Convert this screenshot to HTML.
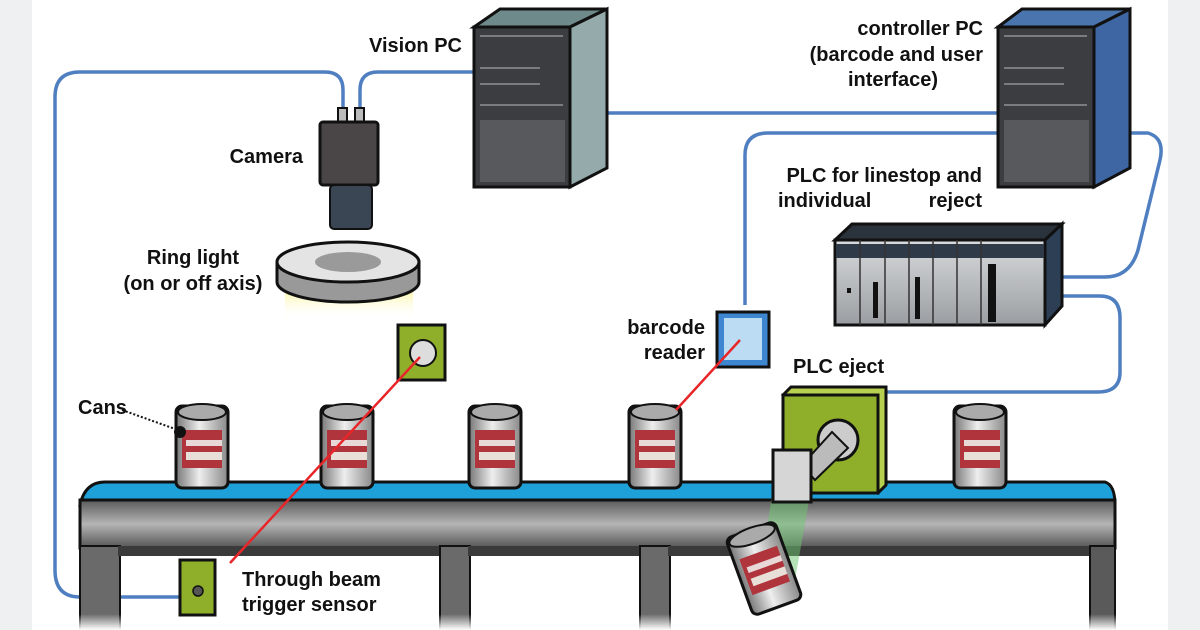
<!DOCTYPE html>
<html><head><meta charset="utf-8"><style>
html,body{margin:0;padding:0;width:1200px;height:630px;overflow:hidden;background:#fff}
svg{display:block}
text{font-family:"Liberation Sans Narrow","Liberation Sans",sans-serif;font-size:20px;fill:#111;font-weight:bold}
</style></head><body>
<svg width="1200" height="630" viewBox="0 0 1200 630" xmlns="http://www.w3.org/2000/svg">
<defs>
<linearGradient id="can" x1="0" x2="1"><stop offset="0" stop-color="#777"/><stop offset=".45" stop-color="#eee"/><stop offset="1" stop-color="#888"/></linearGradient>
<linearGradient id="frame" x1="0" y1="0" x2="0" y2="1"><stop offset="0" stop-color="#5a5a5a"/><stop offset=".5" stop-color="#b5b5b5"/><stop offset="1" stop-color="#555"/></linearGradient>
<linearGradient id="glow" x1="0" y1="0" x2="0" y2="1"><stop offset="0" stop-color="#f5ef60"/><stop offset="1" stop-color="#fff" stop-opacity="0"/></linearGradient>
<linearGradient id="plc" x1="0" x2="0" y1="0" y2="1"><stop offset="0" stop-color="#d8dadc"/><stop offset="1" stop-color="#9a9ea2"/></linearGradient>
<linearGradient id="fade" x1="0" y1="0" x2="0" y2="1"><stop offset="0" stop-color="#fff" stop-opacity="0"/><stop offset="1" stop-color="#fff" stop-opacity="1"/></linearGradient>
<g id="canG">
<rect x="-26" y="0" width="52" height="82" rx="6" fill="url(#can)" stroke="#111" stroke-width="3"/>
<ellipse cx="0" cy="6" rx="24" ry="8" fill="#aaa" stroke="#111" stroke-width="2"/>
<rect x="-20" y="24" width="40" height="38" fill="#b0343c"/>
<rect x="-16" y="34" width="36" height="6" fill="#e8d8d8"/>
<rect x="-16" y="46" width="36" height="8" fill="#e8e0d8"/>
</g>
</defs>
<rect x="0" y="0" width="32" height="630" fill="#eef0f2"/>
<rect x="1168" y="0" width="32" height="630" fill="#eef0f2"/>

<g fill="none" stroke="#4f7fc0" stroke-width="3.5">
<path d="M343 112 V90 Q343 72 325 72 H80 Q55 72 55 97 V570 Q55 597 80 597 H200"/>
<path d="M360 112 V90 Q360 72 378 72 H474"/>
<path d="M607 113 H998"/>
<path d="M998 133 H768 Q745 133 745 155 V305"/>
<path d="M1130 133 H1148 Q1165 138 1160 160 L1138 250 Q1130 277 1105 277 H1062"/>
<path d="M1062 296 H1100 Q1120 296 1120 318 V372 Q1120 392 1098 392 H885"/>
</g>

<polygon points="474,27 500,9 607,9 570,27" fill="#6e8a8a" stroke="#111" stroke-width="3"/>
<polygon points="570,27 607,9 607,168 570,187" fill="#95abab" stroke="#111" stroke-width="3"/>
<rect x="474" y="27" width="96" height="160" fill="#3c3d40" stroke="#111" stroke-width="3"/>
<g stroke="#7a7c80" stroke-width="2"><line x1="480" y1="36" x2="563" y2="36"/><line x1="480" y1="68" x2="540" y2="68"/><line x1="480" y1="84" x2="540" y2="84"/><line x1="480" y1="105" x2="563" y2="105"/></g>
<rect x="480" y="120" width="85" height="62" fill="#58595c"/>
<polygon points="998,27 1022,9 1130,9 1094,27" fill="#4a74ad" stroke="#111" stroke-width="3"/>
<polygon points="1094,27 1130,9 1130,168 1094,187" fill="#3e66a2" stroke="#111" stroke-width="3"/>
<rect x="998" y="27" width="96" height="160" fill="#3c3d40" stroke="#111" stroke-width="3"/>
<g stroke="#7a7c80" stroke-width="2"><line x1="1004" y1="36" x2="1087" y2="36"/><line x1="1004" y1="68" x2="1064" y2="68"/><line x1="1004" y1="84" x2="1064" y2="84"/><line x1="1004" y1="105" x2="1087" y2="105"/></g>
<rect x="1004" y="120" width="85" height="62" fill="#58595c"/>

<rect x="338" y="108" width="9" height="16" fill="#bbb" stroke="#111" stroke-width="2"/>
<rect x="355" y="108" width="9" height="16" fill="#bbb" stroke="#111" stroke-width="2"/>
<rect x="320" y="122" width="58" height="63" rx="3" fill="#4a4546" stroke="#111" stroke-width="3"/>
<rect x="330" y="185" width="42" height="44" rx="4" fill="#3a4654" stroke="#111" stroke-width="2"/>

<rect x="285" y="280" width="128" height="40" fill="url(#glow)"/>
<path d="M277 262 V282 A71 20 0 0 0 419 282 V262 Z" fill="#999" stroke="#111" stroke-width="3"/>
<ellipse cx="348" cy="262" rx="71" ry="20" fill="#e4e4e4" stroke="#111" stroke-width="3"/>
<ellipse cx="348" cy="262" rx="33" ry="10" fill="#9a9a9a"/>

<polygon points="835,240 852,224 1062,224 1045,240" fill="#2a323c" stroke="#111" stroke-width="3"/>
<polygon points="1045,240 1062,224 1062,306 1045,325" fill="#2d3f55" stroke="#111" stroke-width="3"/>
<rect x="835" y="240" width="210" height="85" fill="url(#plc)" stroke="#111" stroke-width="3"/>
<rect x="836" y="244" width="208" height="14" fill="#2e3a48"/>
<g stroke="#333" stroke-width="1.5"><line x1="860" y1="240" x2="860" y2="325"/><line x1="885" y1="240" x2="885" y2="325"/><line x1="909" y1="240" x2="909" y2="325"/><line x1="933" y1="240" x2="933" y2="325"/><line x1="957" y1="240" x2="957" y2="325"/><line x1="981" y1="240" x2="981" y2="325"/></g>
<g fill="#111"><rect x="847" y="288" width="4" height="5"/><rect x="873" y="282" width="5" height="36"/><rect x="915" y="277" width="5" height="42"/><rect x="988" y="264" width="8" height="58"/></g>

<rect x="717" y="312" width="52" height="55" fill="#3f86d0" stroke="#111" stroke-width="3"/>
<rect x="724" y="318" width="38" height="42" fill="#bcdcf4"/>

<rect x="398" y="325" width="47" height="55" fill="#8fae2a" stroke="#111" stroke-width="3"/>
<circle cx="423" cy="353" r="13" fill="#ddd" stroke="#111" stroke-width="2"/>

<path d="M80 505 Q85 482 105 482 H1105 Q1115 485 1115 505 Z" fill="#1ea0d8" stroke="#111" stroke-width="3"/>
<rect x="80" y="500" width="1035" height="48" fill="url(#frame)" stroke="#111" stroke-width="3"/>
<rect x="80" y="546" width="40" height="84" fill="#6a6a6a" stroke="#111" stroke-width="2"/>
<rect x="118" y="546" width="322" height="10" fill="#3a3a3a"/>
<rect x="440" y="546" width="30" height="84" fill="#6a6a6a" stroke="#111" stroke-width="2"/>
<rect x="468" y="546" width="172" height="10" fill="#3a3a3a"/>
<rect x="640" y="546" width="30" height="84" fill="#6a6a6a" stroke="#111" stroke-width="2"/>
<rect x="668" y="546" width="422" height="10" fill="#3a3a3a"/>
<rect x="1090" y="546" width="25" height="84" fill="#5a5a5a" stroke="#111" stroke-width="2"/>
<rect x="75" y="614" width="1045" height="16" fill="url(#fade)"/>

<use href="#canG" x="202" y="406"/>
<use href="#canG" x="347" y="406"/>
<use href="#canG" x="495" y="406"/>
<use href="#canG" x="655" y="406"/>
<use href="#canG" x="980" y="406"/>
<circle cx="180" cy="432" r="6" fill="#111"/>
<path d="M122 410 L178 430" stroke="#111" stroke-width="2" stroke-dasharray="2 2"/>

<line x1="740" y1="340" x2="676" y2="410" stroke="#e8262a" stroke-width="2.5"/>
<line x1="420" y1="357" x2="230" y2="563" stroke="#e8262a" stroke-width="2.5"/>

<polygon points="783,395 791,387 886,387 886,485 878,493" fill="#b8d050" stroke="#111" stroke-width="3"/>
<rect x="783" y="395" width="95" height="98" fill="#8fae2a" stroke="#111" stroke-width="3"/>
<polygon points="772,495 810,495 795,580 760,575" fill="#6cc870" opacity=".5"/>
<circle cx="838" cy="440" r="20" fill="#ccc" stroke="#111" stroke-width="3"/>
<path d="M802 465 L832 432 L848 448 L815 480 Z" fill="#bbb" stroke="#111" stroke-width="2"/>
<rect x="773" y="450" width="38" height="52" fill="#d6d6d6" stroke="#111" stroke-width="3"/>
<g transform="translate(750 530) rotate(-20)"><use href="#canG" x="0" y="0"/></g>

<rect x="180" y="560" width="35" height="55" fill="#8fae2a" stroke="#111" stroke-width="3"/>
<circle cx="198" cy="591" r="5" fill="#555" stroke="#111" stroke-width="1.5"/>

<text x="462" y="52" text-anchor="end">Vision PC</text>
<text x="303" y="163" text-anchor="end">Camera</text>
<text x="193" y="264" text-anchor="middle">Ring light</text>
<text x="193" y="290" text-anchor="middle">(on or off axis)</text>
<text x="983" y="35" text-anchor="end">controller PC</text>
<text x="983" y="61" text-anchor="end">(barcode and user</text>
<text x="893" y="86" text-anchor="middle">interface)</text>
<text x="982" y="182" text-anchor="end">PLC for linestop and</text>
<text x="778" y="207">individual</text>
<text x="982" y="207" text-anchor="end">reject</text>
<text x="705" y="334" text-anchor="end">barcode</text>
<text x="705" y="359" text-anchor="end">reader</text>
<text x="793" y="373">PLC eject</text>
<text x="78" y="414">Cans</text>
<text x="242" y="586">Through beam</text>
<text x="242" y="611">trigger sensor</text>
</svg>
</body></html>
